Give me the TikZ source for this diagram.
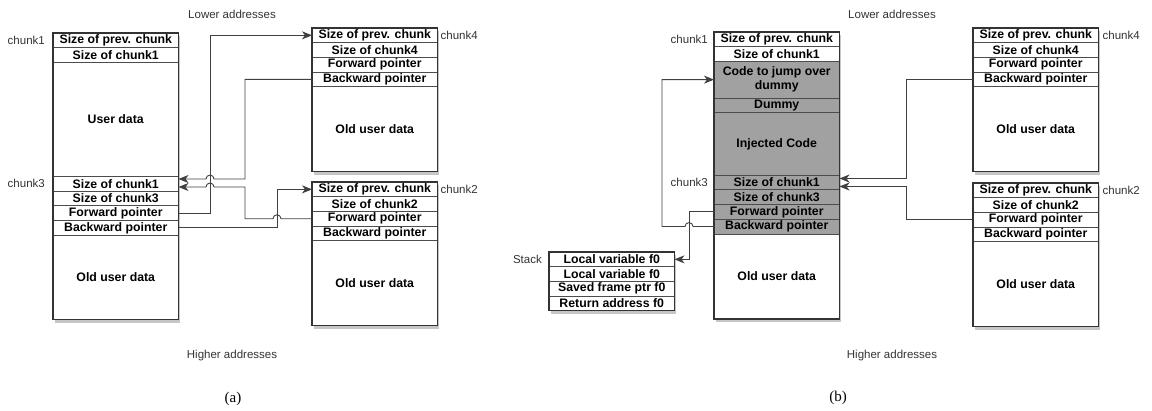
\documentclass[tikz,border=0pt]{standalone}
\usepackage{fontspec}
\setmainfont{Liberation Sans}
\newfontfamily\capfont{Liberation Serif}
\usetikzlibrary{positioning,arrows.meta,shadows,backgrounds}

\tikzset{
  cell/.style={draw=black!70, line width=0.6pt, fill=white, outer sep=0pt, inner sep=0pt,
    minimum width=125.5pt, minimum height=#1, align=center,
    font=\fontsize{12.3}{14}\selectfont\bfseries},
  cell/.default=14.7pt,
  hot/.style={fill=black!37},
  tag/.style={inner sep=0pt, font=\fontsize{11.5}{12}\selectfont, text=black!80},
  ptr/.style={draw=black!75, line width=0.9pt, -{Stealth[length=10pt,width=8pt,inset=3pt]}},
  frame/.style={draw=black!80, line width=1.3pt},
  box shadow/.style={fill=white, drop shadow={shadow xshift=1.5pt, shadow yshift=-3.5pt, opacity=0.45}},
}

\begin{document}
\begin{tikzpicture}[x=1pt, y=-1pt]
  \useasboundingbox (0,0) rectangle (1152,411);

  % (a) chunk1 / chunk3
  \node[cell, anchor=north west] (a1prev) at (53,33) {Size of prev. chunk};
  \node[cell, below=0pt of a1prev] (a1size) {Size of chunk1};
  \node[cell=114pt, below=0pt of a1size] (a1data) {User data};
  \node[cell, below=0pt of a1data] (a3s1) {Size of chunk1};
  \node[cell, below=0pt of a3s1] (a3s3) {Size of chunk3};
  \node[cell, below=0pt of a3s3] (a3fwd) {Forward pointer};
  \node[cell, below=0pt of a3fwd] (a3bwd) {Backward pointer};
  \node[cell=84pt, below=0pt of a3bwd] (a3old) {Old user data};
  \node[tag, left=8pt of a1prev] (a1tag) {chunk1};
  \node[tag, left=8pt of a3s1] (a3tag) {chunk3};

  % (a) chunk4
  \node[cell, anchor=north west] (a4prev) at (312,28) {Size of prev. chunk};
  \node[cell, below=0pt of a4prev] (a4size) {Size of chunk4};
  \node[cell, below=0pt of a4size] (a4fwd) {Forward pointer};
  \node[cell, below=0pt of a4fwd] (a4bwd) {Backward pointer};
  \node[cell=85pt, below=0pt of a4bwd] (a4old) {Old user data};
  \node[tag, right=3pt of a4prev] (a4tag) {chunk4};

  % (a) chunk2
  \node[cell, anchor=north west] (a2prev) at (312,182) {Size of prev. chunk};
  \node[cell, below=0pt of a2prev] (a2size) {Size of chunk2};
  \node[cell, below=0pt of a2size] (a2fwd) {Forward pointer};
  \node[cell, below=0pt of a2fwd] (a2bwd) {Backward pointer};
  \node[cell=85pt, below=0pt of a2bwd] (a2old) {Old user data};
  \node[tag, right=3pt of a2prev] (a2tag) {chunk2};

  % (b) chunk1 / chunk3 with injected code
  \node[cell, anchor=north west] (b1prev) at (714,32) {Size of prev. chunk};
  \node[cell, below=0pt of b1prev] (b1size) {Size of chunk1};
  \node[cell=36.5pt, hot, below=0pt of b1size] (b1code) {Code to jump over\\dummy};
  \node[cell, hot, below=0pt of b1code] (b1dummy) {Dummy};
  \node[cell=62.5pt, hot, below=0pt of b1dummy] (b1inj) {Injected Code};
  \node[cell, hot, below=0pt of b1inj] (b3s1) {Size of chunk1};
  \node[cell, hot, below=0pt of b3s1] (b3s3) {Size of chunk3};
  \node[cell, hot, below=0pt of b3s3] (b3fwd) {Forward pointer};
  \node[cell, hot, below=0pt of b3fwd] (b3bwd) {Backward pointer};
  \node[cell=85pt, below=0pt of b3bwd] (b3old) {Old user data};
  \node[tag, left=6pt of b1prev] (b1tag) {chunk1};
  \node[tag, left=6pt of b3s1] (b3tag) {chunk3};

  % (b) stack
  \node[cell, anchor=north west] (bst1) at (549,252) {Local variable f0};
  \node[cell, below=0pt of bst1] (bst2) {Local variable f0};
  \node[cell, below=0pt of bst2] (bst3) {Saved frame ptr f0};
  \node[cell, below=0pt of bst3] (bst4) {Return address f0};
  \node[tag, left=7pt of bst1] (bsttag) {Stack};

  % (b) chunk4
  \node[cell, anchor=north west] (b4prev) at (973,28) {Size of prev. chunk};
  \node[cell, below=0pt of b4prev] (b4size) {Size of chunk4};
  \node[cell, below=0pt of b4size] (b4fwd) {Forward pointer};
  \node[cell, below=0pt of b4fwd] (b4bwd) {Backward pointer};
  \node[cell=85pt, below=0pt of b4bwd] (b4old) {Old user data};
  \node[tag, right=4pt of b4prev] (b4tag) {chunk4};

  % (b) chunk2
  \node[cell, anchor=north west] (b2prev) at (973,183) {Size of prev. chunk};
  \node[cell, below=0pt of b2prev] (b2size) {Size of chunk2};
  \node[cell, below=0pt of b2size] (b2fwd) {Forward pointer};
  \node[cell, below=0pt of b2fwd] (b2bwd) {Backward pointer};
  \node[cell=85pt, below=0pt of b2bwd] (b2old) {Old user data};
  \node[tag, right=4pt of b2prev] (b2tag) {chunk2};

  % shadows behind, thick outlines on top
  \begin{scope}[on background layer]
    \foreach \top/\bot in {a1prev/a3old, a4prev/a4old, a2prev/a2old,
                           b1prev/b3old, bst1/bst4, b4prev/b4old, b2prev/b2old}
      \path[box shadow] (\top.north west) rectangle (\bot.south east);
  \end{scope}
  \foreach \top/\bot in {a1prev/a3old, a4prev/a4old, a2prev/a2old,
                         b1prev/b3old, bst1/bst4, b4prev/b4old, b2prev/b2old}
    \draw[frame] (\top.north west) rectangle (\bot.south east);

  % addresses and captions
  \node[tag] (lowa) at (232,14) {Lower addresses};
  \node[tag] (higha) at (232,356) {Higher addresses};
  \node[tag] (lowb) at (892,14) {Lower addresses};
  \node[tag] (highb) at (892,356) {Higher addresses};
  \node[font=\capfont\fontsize{15}{15}\selectfont] (capa) at (233,399) {(a)};
  \node[font=\capfont\fontsize{15}{15}\selectfont] (capb) at (838,398) {(b)};

  % (a) pointers
  \draw[ptr] (a3fwd.east) -- ++(31.5,0) |- (a4prev.west);
  \draw[ptr] (a4bwd.west) -| (245,179) -- (214,179)
    arc[start angle=0, end angle=180, radius=4pt] -- (a3s1.east |- 0,179);
  \draw[ptr] (a2fwd.west) -- ++(-31,0)
    arc[start angle=0, end angle=180, radius=4pt] -- ++(-28,0) |- (214,187)
    arc[start angle=0, end angle=180, radius=4pt] -- (a3s1.east |- 0,187);
  \draw[ptr] (a3bwd.east) -- ++(98.5,0) |- (a2prev.west);

  % (b) pointers
  \draw[ptr] (b4bwd.west) -| (906,178.5) -- (b3s1.east |- 0,178.5);
  \draw[ptr] (b2fwd.west) -| (906,186.5) -- (b3s1.east |- 0,186.5);
  \draw[ptr] (b3bwd.west) -- ++(-21,0)
    arc[start angle=0, end angle=180, radius=4pt] -- ++(-23,0) |- (b1code.west);
  \draw[ptr] (b3fwd.west) -- ++(-25,0) |- (bst1.east);
\end{tikzpicture}
\end{document}
